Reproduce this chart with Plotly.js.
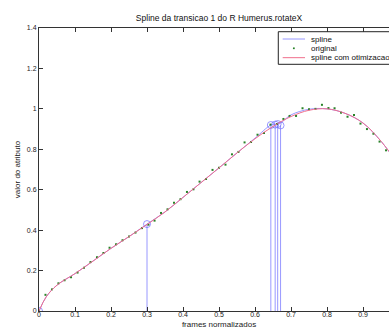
<!DOCTYPE html>
<html>
<head>
<meta charset="utf-8">
<script src="https://cdn.plot.ly/plotly-3.0.1.min.js"></script>
<style>
html,body{margin:0;padding:0;overflow:hidden;background:#fff;width:389px;height:329px;}
#chart{width:440px;height:329px;}
</style>
</head>
<body>
<div id="chart"></div>
<script>
// original samples
const origX = [0,0.018,0.036,0.054,0.071,0.089,0.107,0.125,0.143,0.161,0.179,0.196,0.214,0.232,0.25,0.268,0.286,0.304,0.321,0.339,0.357,0.375,0.393,0.411,0.429,0.446,0.464,0.482,0.5,0.518,0.536,0.554,0.571,0.589,0.607,0.625,0.643,0.661,0.679,0.696,0.714,0.732,0.75,0.768,0.786,0.804,0.821,0.839,0.857,0.875,0.893,0.911,0.929,0.946,0.964,0.982,1.0];
const origY = [0,0.08,0.107,0.137,0.152,0.167,0.19,0.214,0.242,0.266,0.287,0.313,0.33,0.35,0.368,0.388,0.41,0.427,0.447,0.485,0.503,0.536,0.553,0.589,0.602,0.64,0.653,0.698,0.709,0.724,0.775,0.787,0.834,0.836,0.872,0.88,0.922,0.925,0.95,0.965,0.965,1.003,0.998,1.0,1.02,1.004,1.003,0.981,0.961,0.97,0.927,0.9,0.877,0.838,0.795,0.76,0.72];

// optimized spline (red)
const optX = [0,0.02,0.05,0.1,0.15,0.2,0.25,0.3,0.35,0.4,0.45,0.5,0.55,0.6,0.65,0.7,0.75,0.8,0.85,0.9,0.95,1.0];
const optY = [0,0.07,0.128,0.185,0.247,0.31,0.368,0.428,0.49,0.562,0.635,0.708,0.782,0.852,0.913,0.962,0.993,1.0,0.978,0.93,0.84,0.72];

// spline (blue) through key points
const splX = [0,0.02,0.05,0.1,0.15,0.2,0.25,0.3,0.35,0.4,0.45,0.5,0.55,0.6,0.644,0.656,0.663,0.671,0.7,0.75,0.8,0.85,0.9,0.95,1.0];
const splY = [0,0.07,0.128,0.185,0.247,0.31,0.368,0.43,0.49,0.562,0.635,0.708,0.782,0.855,0.92,0.924,0.925,0.93,0.97,0.998,1.0,0.978,0.93,0.84,0.72];

// key points
const keyX = [0,0.3,0.644,0.656,0.663,0.671,1.0];
const keyY = [0,0.43,0.92,0.922,0.925,0.918,0.72];

// legend labels
const legendLabels = ['spline','original','spline com otimizacao'];

const stemX = [], stemY = [];
keyX.forEach((x,i)=>{ stemX.push(x,x,null); stemY.push(0,keyY[i],null); });

const blue = 'rgba(110,110,255,0.7)';
const red = 'rgb(240,110,140)';
const green = 'rgb(40,130,40)';

const traces = [
  {x: stemX, y: stemY, mode:'lines', line:{color:blue,width:1}, showlegend:false, hoverinfo:'skip'},
  {x: splX, y: splY, mode:'lines', name:legendLabels[0], line:{color:blue,width:1,shape:'spline'}, showlegend:false},
  {x: keyX, y: keyY, mode:'markers', marker:{symbol:'circle-open',size:7,color:blue,line:{width:1}}, showlegend:false},
  {x: origX, y: origY, mode:'markers', name:legendLabels[1], marker:{symbol:'square',size:2,color:green}, showlegend:false},
  {x: optX, y: optY, mode:'lines', name:legendLabels[2], line:{color:red,width:1,shape:'spline'}, showlegend:false}
];

// manual legend (MATLAB-like compact box)
const lgLeft = 0.6647, lgRight = 1.06, lgTop = 0.9869, lgBottom = 0.8717;
const rowY = [0.9611, 0.9283, 0.8951];
const sampleX0 = 0.6769, sampleX1 = 0.7389, textX = 0.7508;
const shapes = [
  {type:'rect', xref:'paper', yref:'paper', x0:lgLeft, x1:lgRight, y0:lgBottom, y1:lgTop, line:{color:'#222',width:1}, fillcolor:'#fff', layer:'above'},
  {type:'line', xref:'paper', yref:'paper', x0:sampleX0, x1:sampleX1, y0:rowY[0], y1:rowY[0], line:{color:blue,width:1}, layer:'above'},
  {type:'rect', xref:'paper', yref:'paper', x0:(sampleX0+sampleX1)/2-0.0025, x1:(sampleX0+sampleX1)/2+0.0025, y0:rowY[1]-0.003, y1:rowY[1]+0.003, line:{width:0}, fillcolor:green, layer:'above'},
  {type:'line', xref:'paper', yref:'paper', x0:sampleX0, x1:sampleX1, y0:rowY[2], y1:rowY[2], line:{color:red,width:1}, layer:'above'}
];
const fam = '"Liberation Sans", Arial, sans-serif';
const annotations = legendLabels.map((t,i)=>({
  text:t, xref:'paper', yref:'paper', x:textX, y:rowY[i], xanchor:'left', yanchor:'middle', showarrow:false, font:{family:fam,size:8,color:'#111'}
}));

const layout = {
  width: 440, height: 329,
  margin: {l:39, r:41, t:28, b:18},
  paper_bgcolor:'#fff', plot_bgcolor:'#fff',
  font:{family:fam, size:8, color:'#222'},
  title:{text:'Spline da transicao 1 do R Humerus.rotateX', font:{family:fam,size:8.5,color:'#111'}, x:0.5, xref:'paper', y:0.945, yanchor:'middle'},
  xaxis:{range:[0,1], dtick:0.1, tick0:0, showgrid:false, zeroline:false, showline:true, linecolor:'#333', linewidth:1, mirror:'ticks', ticks:'inside', ticklen:4, tickcolor:'#333', tickfont:{size:7}, automargin:false, ticklabelstandoff:-3,
         title:{text:'frames normalizados', font:{size:8}, standoff:6}},
  yaxis:{range:[0,1.4], dtick:0.2, tick0:0, showgrid:false, zeroline:false, showline:true, linecolor:'#333', linewidth:1, mirror:'ticks', ticks:'inside', ticklen:4, tickcolor:'#333', tickfont:{size:7}, automargin:false,
         title:{text:'valor do atributo', font:{size:8}, standoff:5}},
  shapes: shapes,
  annotations: annotations,
  showlegend:false
};
Plotly.newPlot('chart', traces, layout, {displayModeBar:false, staticPlot:true});
</script>
</body>
</html>
